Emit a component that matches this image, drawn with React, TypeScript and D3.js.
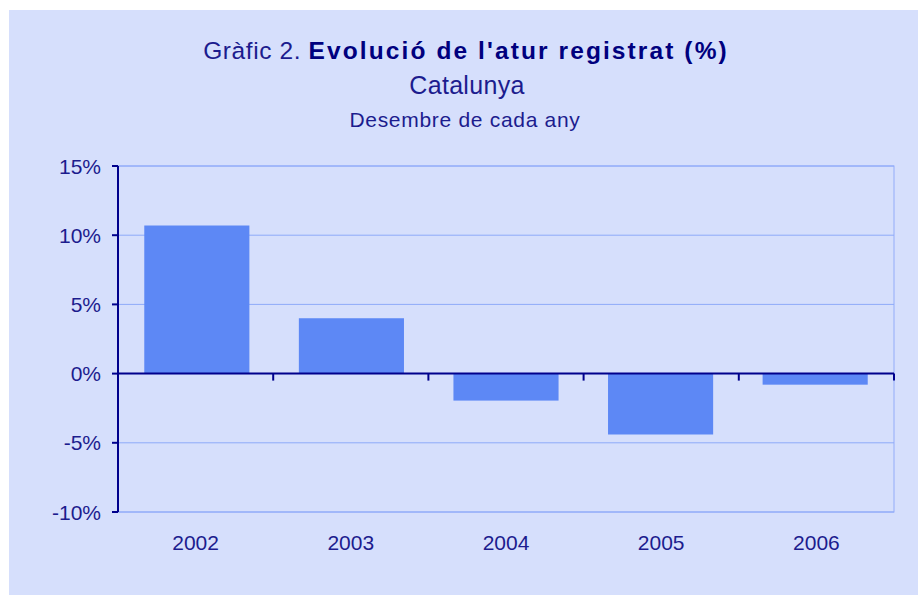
// Bar chart: evolució de l'atur registrat, Catalunya.

import * as d3 from "d3";

const years = ["2002", "2003", "2004", "2005", "2006"];
const values = [10.7, 4.0, -1.95, -4.4, -0.8]; // % change, December of each year
const yTicks = [-10, -5, 0, 5, 10, 15];

const width = 918;
const height = 595;
const font = "'Liberation Sans', Arial, sans-serif";
const textColor = "#1c1c8e";
const axisColor = "#00008c";

export default function App() {
  const [plotLeft, plotRight, plotTop, plotBottom] = [118, 894, 166, 512];

  const x = d3.scaleBand(years, [plotLeft, plotRight]).paddingInner(0.32).paddingOuter(0.17);
  const band = d3.scaleBand(years, [plotLeft, plotRight]);
  const y = d3.scaleLinear([-10, 15], [plotBottom, plotTop]);

  const boundaries = years.map((d) => band(d) as number).concat(plotRight);

  return (
    <svg width={width} height={height} style={{ position: "absolute", left: 0, top: 0 }}>
      <rect x={9} y={10} width={width - 9} height={height - 10} fill="#d6dffc" />

      <g fontFamily={font} fill={textColor} textAnchor="middle">
        <text x={466} y={59} fontSize={24.5}>
          <tspan letterSpacing={0.6}>Gràfic 2. </tspan>
          <tspan fontWeight="bold" fill="#00007e" letterSpacing={2.1}>
            Evolució de l'atur registrat (%)
          </tspan>
        </text>
        <text x={467} y={94} fontSize={25} letterSpacing={0.3}>
          Catalunya
        </text>
        <text x={465} y={127} fontSize={21} letterSpacing={0.7}>
          Desembre de cada any
        </text>
      </g>

      {/* plot frame and gridlines */}
      <rect
        x={plotLeft}
        y={plotTop}
        width={plotRight - plotLeft}
        height={plotBottom - plotTop}
        fill="none"
        stroke="#93acf9"
        strokeWidth={1}
      />
      {yTicks.map((t) => (
        <line key={t} x1={plotLeft} x2={plotRight} y1={y(t)} y2={y(t)} stroke="#8eaaf9" strokeWidth={1} />
      ))}

      {/* bars */}
      {years.map((d, i) => (
        <rect
          key={d}
          x={x(d)}
          width={x.bandwidth()}
          y={y(Math.max(0, values[i]))}
          height={Math.abs(y(values[i]) - y(0))}
          fill="#5d88f5"
        />
      ))}

      {/* y axis */}
      <line x1={plotLeft} x2={plotLeft} y1={plotTop} y2={plotBottom} stroke={axisColor} strokeWidth={2} />
      {yTicks.map((t) => (
        <g key={t}>
          <line x1={plotLeft - 6} x2={plotLeft} y1={y(t)} y2={y(t)} stroke={axisColor} strokeWidth={2} />
          <text
            x={plotLeft - 17}
            y={y(t)}
            dy="0.36em"
            textAnchor="end"
            fontFamily={font}
            fontSize={21}
            fill={textColor}
          >
            {`${t}%`}
          </text>
        </g>
      ))}

      {/* x axis at zero */}
      <line x1={plotLeft} x2={plotRight} y1={y(0)} y2={y(0)} stroke={axisColor} strokeWidth={2} />
      {boundaries.map((b, i) => (
        <line key={i} x1={b} x2={b} y1={y(0)} y2={y(0) + 7} stroke={axisColor} strokeWidth={2} />
      ))}
      {years.map((d) => (
        <text
          key={d}
          x={(band(d) as number) + band.bandwidth() / 2}
          y={550}
          textAnchor="middle"
          fontFamily={font}
          fontSize={21}
          fill={textColor}
        >
          {d}
        </text>
      ))}
    </svg>
  );
}
